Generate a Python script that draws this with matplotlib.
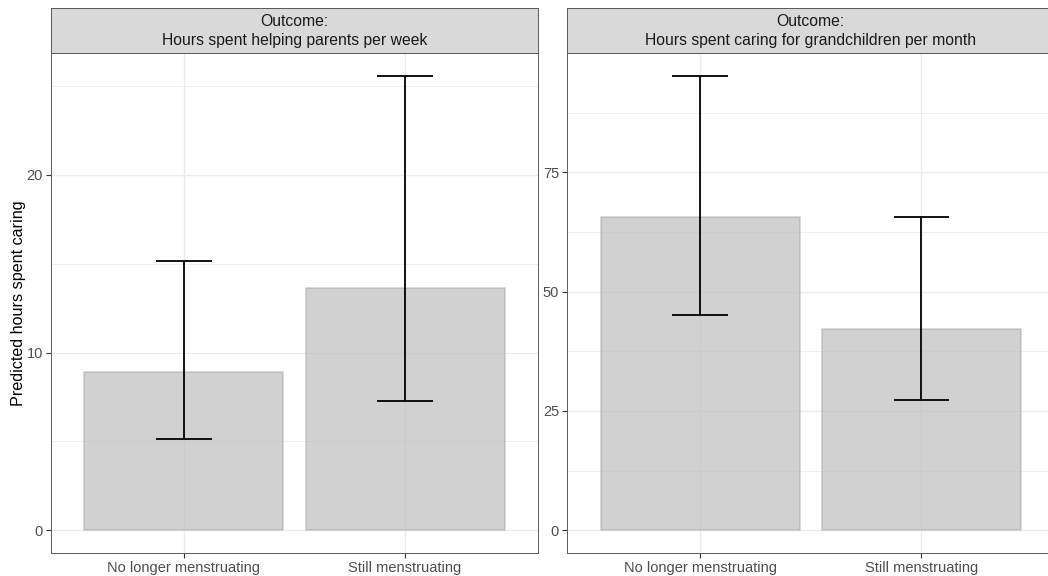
import matplotlib
matplotlib.use("Agg")
import matplotlib.pyplot as plt
from matplotlib.ticker import FixedLocator

# Data
categories = ["No longer menstruating", "Still menstruating"]
panel_titles = [
    "Outcome:\nHours spent helping parents per week",
    "Outcome:\nHours spent caring for grandchildren per month",
]
parents_pred = [8.88, 13.65]
parents_low = [5.15, 7.30]
parents_high = [15.17, 25.56]
grandkids_pred = [65.6, 42.2]
grandkids_low = [45.1, 27.2]
grandkids_high = [95.2, 65.6]

y_major = [[0, 10, 20], [0, 25, 50, 75]]
y_minor = [[5, 15, 25], [12.5, 37.5, 62.5, 87.5]]

plt.rcParams["font.family"] = ["Liberation Sans", "DejaVu Sans"]

W, H = 1048, 576
fig = plt.figure(figsize=(W / 100, H / 100), dpi=100)

panel_top = 53.3
panel_bot = 553.0
strip_top = 8.3
panel_w = 486.5
lefts = [51.2, 567.4]

series = [
    (parents_pred, parents_low, parents_high),
    (grandkids_pred, grandkids_low, grandkids_high),
]

border_col = "#5a5a5a"
grid_col = "#EBEBEB"

for i, (pred, lo, hi) in enumerate(series):
    x0 = lefts[i] / W
    ax = fig.add_axes([x0, (H - panel_bot) / H, panel_w / W, (panel_bot - panel_top) / H])
    xs = list(range(1, len(categories) + 1))

    ax.bar(xs, pred, width=0.9, color=(0.745, 0.745, 0.745, 0.7),
           edgecolor=(0.62, 0.62, 0.62, 0.45), linewidth=1.2, zorder=2)
    for x, l, h in zip(xs, lo, hi):
        ax.plot([x, x], [l, h], color="black", lw=1.3, zorder=3, solid_capstyle="butt")
        ax.plot([x - 0.125, x + 0.125], [l, l], color="black", lw=1.3, zorder=3, solid_capstyle="butt")
        ax.plot([x - 0.125, x + 0.125], [h, h], color="black", lw=1.3, zorder=3, solid_capstyle="butt")

    top = max(hi)
    pad = 0.05 * top
    ax.set_ylim(-pad, top + pad)
    ax.set_xlim(0.4, len(categories) + 0.6)

    ax.yaxis.set_major_locator(FixedLocator(y_major[i]))
    ax.yaxis.set_minor_locator(FixedLocator(y_minor[i]))
    ax.set_xticks(xs)
    ax.set_xticklabels(categories)
    ax.set_yticklabels([str(v) for v in y_major[i]])

    ax.grid(True, which="major", color=grid_col, lw=1.0, zorder=0)
    ax.grid(True, which="minor", axis="y", color=grid_col, lw=0.55, zorder=0)
    ax.set_axisbelow(True)

    ax.tick_params(which="major", length=3.5, width=0.8, color="#333333",
                   labelsize=10.5, labelcolor="#4D4D4D", pad=2.5)
    ax.tick_params(which="minor", length=0)
    for s in ax.spines.values():
        s.set_color(border_col)
        s.set_linewidth(0.7)

    if i == 0:
        ax.set_ylabel("Predicted hours spent caring", fontsize=11.6, color="black", labelpad=0)

    # facet strip
    sax = fig.add_axes([x0, (H - panel_top) / H, panel_w / W, (panel_top - strip_top) / H])
    sax.set_facecolor("#D9D9D9")
    sax.set_xticks([])
    sax.set_yticks([])
    for s in sax.spines.values():
        s.set_color(border_col)
        s.set_linewidth(0.7)
    sax.text(0.5, 0.5, panel_titles[i], ha="center", va="center", fontsize=11.3,
             color="#1A1A1A", transform=sax.transAxes, linespacing=1.3)

fig.savefig("out.png", dpi=100, facecolor="white")
